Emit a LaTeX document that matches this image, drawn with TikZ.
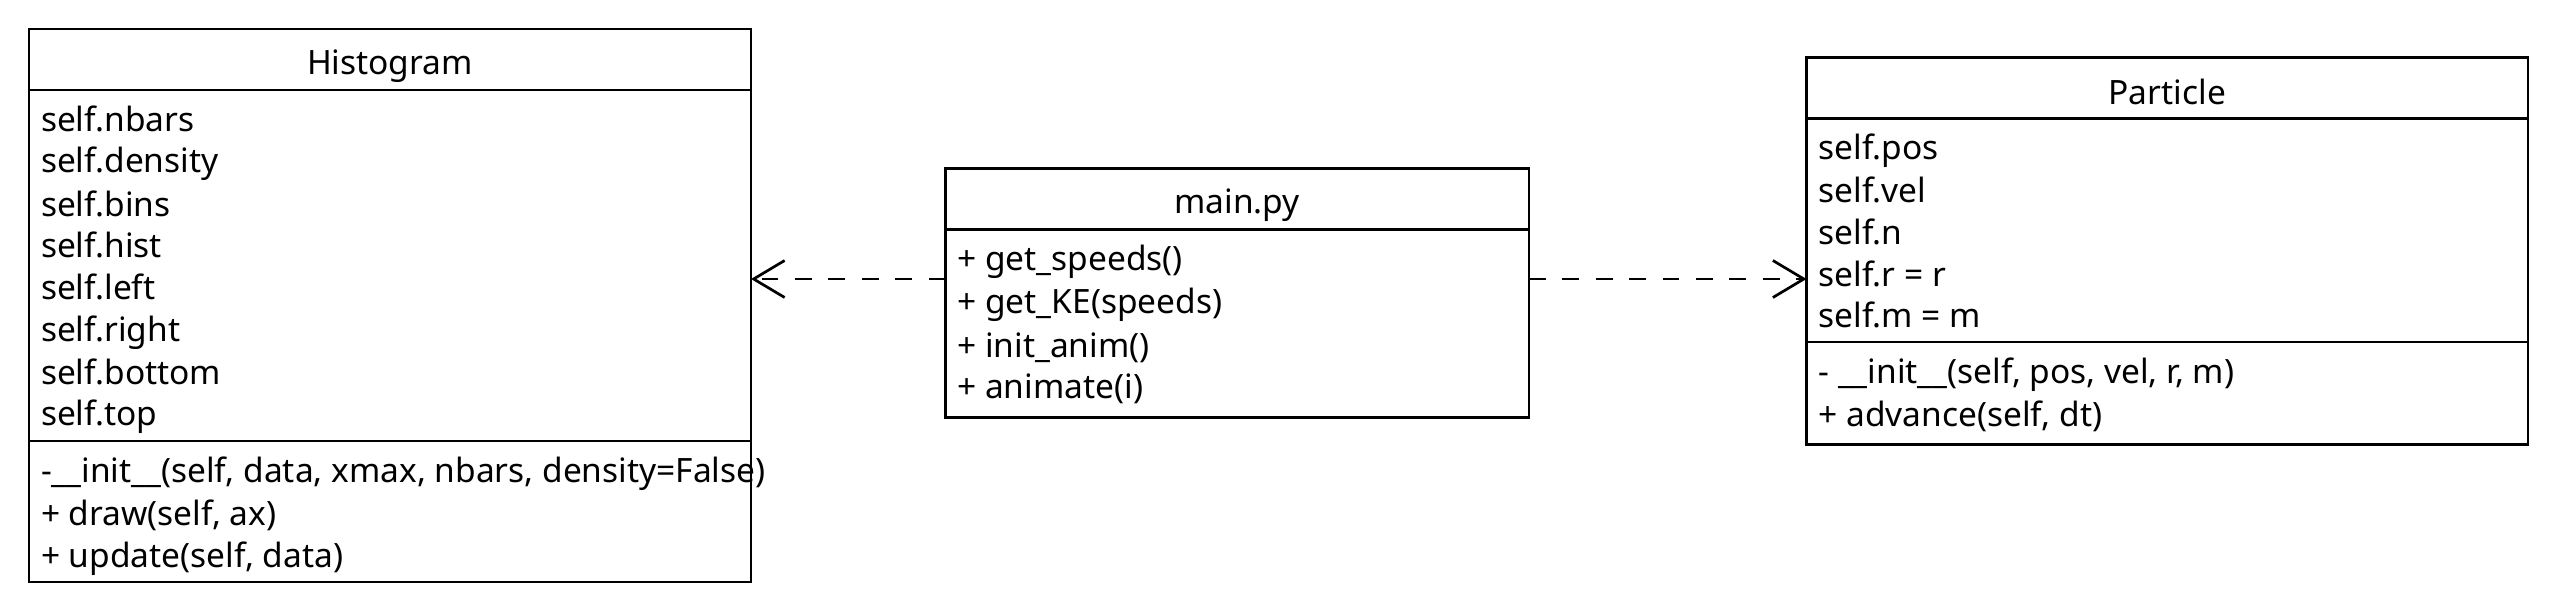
\documentclass[tikz,border=0pt]{standalone}
\usepackage{fontspec}
\setmainfont{Noto Sans}
\usetikzlibrary{arrows.meta}

% one text row of the class boxes, and the row of a class name
\newcommand{\rs}{\rule[-7.3pt]{0pt}{41.6pt}}
\newcommand{\ts}{\rule[-3.6pt]{0pt}{41.6pt}}

\tikzset{
  classframe/.style={draw, line width=2.7pt, rectangle, inner sep=0pt, outer sep=0pt, anchor=north west},
  classname/.style={inner sep=0pt, outer sep=0pt, minimum height=61pt, anchor=north},
  members/.style={inner xsep=12pt, inner ysep=7pt, outer sep=0pt, align=left, anchor=north west},
  divider/.style={line width=2.7pt},
  dep/.style={line width=2.7pt, dash pattern=on 16.7pt off 16.7pt, -{Straight Barb[length=31pt, width=37pt]}}
}

\begin{document}
\begin{tikzpicture}[x=1pt, y=-1pt, font=\fontsize{33.5}{41.6}\selectfont]
\useasboundingbox (0,0) rectangle (2556,612);

% Height of the two dependency arrows
\coordinate (arrowy) at (0,279);

% Histogram
\node[classframe, minimum width=722pt, minimum height=553pt] (hist) at (29,29) {};
\node[classname] (histname) at (hist.north) {\ts Histogram};
\draw[divider] (histname.south -| hist.west) -- (histname.south -| hist.east);
\node[members] (histattr) at (histname.south -| hist.west) {\rs self.nbars\\ \rs self.density\\ \rs self.bins\\ \rs self.hist\\ \rs self.left\\ \rs self.right\\ \rs self.bottom\\ \rs self.top};
\draw[divider] (histattr.south -| hist.west) -- (histattr.south -| hist.east);
\node[members] (histops) at (histattr.south -| hist.west) {\rs -\_\_init\_\_(self, data, xmax, nbars, density=False)\\ \rs + draw(self, ax)\\ \rs + update(self, data)};

% main.py
\node[classframe, minimum width=583.7pt, minimum height=249pt] (main) at (945.3,168.3) {};
\node[classname] (mainname) at (main.north) {\ts main.py};
\draw[divider] (mainname.south -| main.west) -- (mainname.south -| main.east);
\node[members] (mainops) at (mainname.south -| main.west) {\rs + get\_speeds()\\ \rs + get\_KE(speeds)\\ \rs + init\_anim()\\ \rs + animate(i)};

% Particle
\node[classframe, minimum width=721.5pt, minimum height=387pt] (part) at (1806.5,57.3) {};
\node[classname] (partname) at (part.north) {\ts Particle};
\draw[divider] (partname.south -| part.west) -- (partname.south -| part.east);
\node[members] (partattr) at (partname.south -| part.west) {\rs self.pos\\ \rs self.vel\\ \rs self.n\\ \rs self.r = r\\ \rs self.m = m};
\draw[divider] (partattr.south -| part.west) -- (partattr.south -| part.east);
\node[members] (partops) at (partattr.south -| part.west) {\rs - \_\_init\_\_(self, pos, vel, r, m)\\ \rs + advance(self, dt)};

% Dependencies
\draw[dep] (main.west |- arrowy) -- (hist.east |- arrowy);
\draw[dep] (main.east |- arrowy) -- (part.west |- arrowy);
\end{tikzpicture}
\end{document}
